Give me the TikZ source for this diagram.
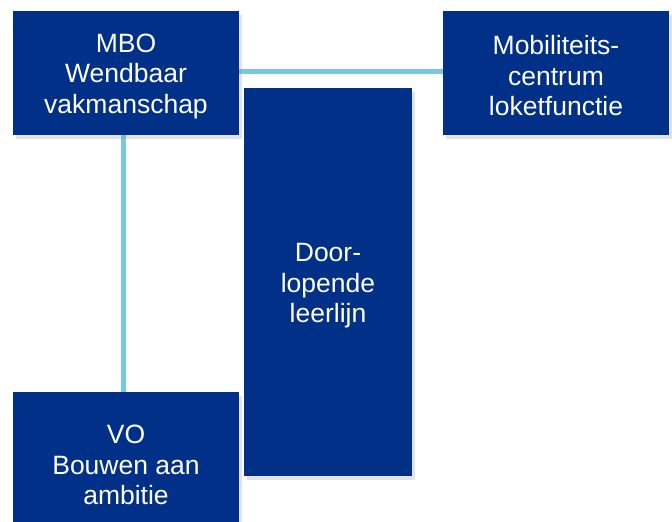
\documentclass[tikz,border=0pt]{standalone}
\usepackage{fontspec}
\setmainfont{Liberation Sans}
\usetikzlibrary{shadows,backgrounds}
\definecolor{boxblue}{RGB}{0,48,135}
\definecolor{linkblue}{RGB}{120,200,228}
\begin{document}
\begin{tikzpicture}[x=1pt,y=-1pt,
  blk/.style={fill=boxblue, draw=none, inner sep=0pt,
    drop shadow={opacity=0.22, shadow xshift=3pt, shadow yshift=-4pt}},
  lbl/.style={text=white, align=center,
    font=\fontsize{26.5}{30.5}\selectfont, inner sep=0pt},
  conn/.style={draw=linkblue, line width=5pt,
    drop shadow={opacity=0.18, shadow xshift=2pt, shadow yshift=-3pt}}]
\useasboundingbox (0,0) rectangle (672,522);
% boxes
\node[blk, minimum width=226pt, minimum height=124pt] (mbo) at (126,73) {};
\node[blk, minimum width=226pt, minimum height=124pt] (mob) at (556,73) {};
\node[blk, minimum width=168pt, minimum height=388pt] (door) at (328,282) {};
\node[blk, minimum width=226pt, minimum height=140pt] (vo) at (126,462) {};
% texts
\node[lbl] (mbotxt) at ([yshift=-3pt]mbo.center) {MBO\\Wendbaar\\vakmanschap};
\node[lbl] (mobtxt) at ([yshift=-3pt]mob.center) {Mobiliteits-\\centrum\\loketfunctie};
\node[lbl] (doortxt) at ([yshift=-4pt]door.center) {Door-\\lopende\\leerlijn};
\node[lbl] (votxt) at ([yshift=-3pt]vo.center) {VO\\Bouwen aan\\ambitie};
% connectors
\begin{scope}[on background layer]
\fill[white] (0,0) rectangle (672,522);
\path[conn] ([xshift=-2.5pt]mbo.south) -- ([xshift=-2.5pt]vo.north);
\path[conn] ([yshift=1.5pt]mbo.east) -- ([yshift=1.5pt]mob.west);
\end{scope}
\end{tikzpicture}
\end{document}
